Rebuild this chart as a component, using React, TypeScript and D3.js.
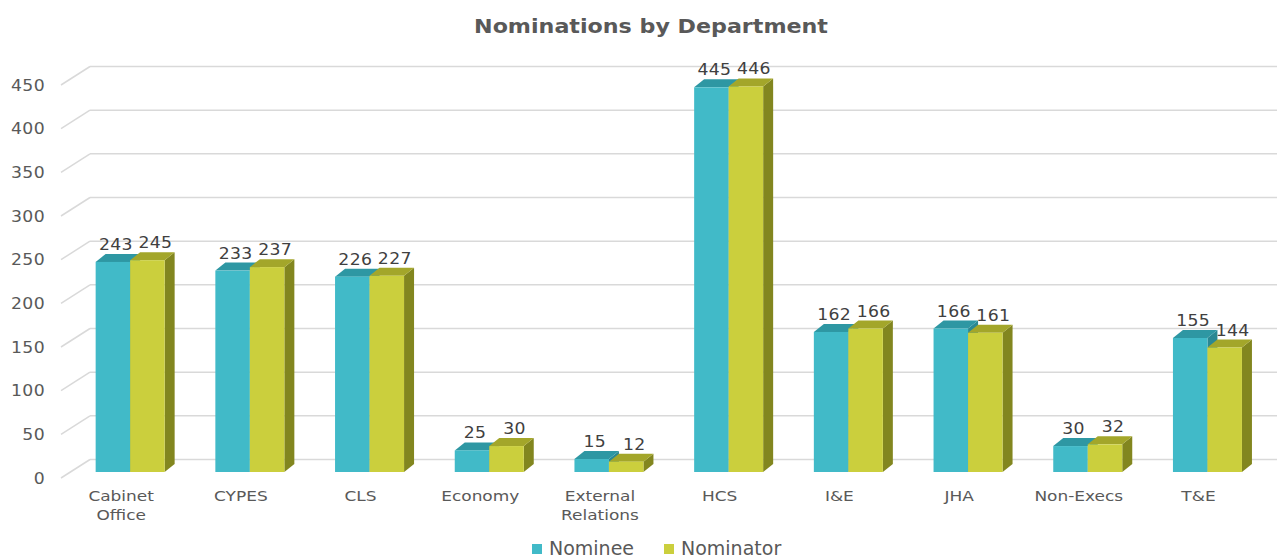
import React from "react";
import { scaleBand, scaleLinear } from "d3";

const categories = [
  "Cabinet Office",
  "CYPES",
  "CLS",
  "Economy",
  "External Relations",
  "HCS",
  "I&E",
  "JHA",
  "Non-Execs",
  "T&E",
];
const nominee = [243, 233, 226, 25, 15, 445, 162, 166, 30, 155];
const nominator = [245, 237, 227, 30, 12, 446, 166, 161, 32, 144];
const yTicks = [0, 50, 100, 150, 200, 250, 300, 350, 400, 450];
const seriesNames = ["Nominee", "Nominator"];

const colors = {
  nominee: { front: "#41bac8", top: "#2e97a3", side: "#2a8893" },
  nominator: { front: "#cbcf3d", top: "#a3a62a", side: "#82861f" },
};

const font = "'DejaVu Sans', Verdana, sans-serif";

// stretched text, the source renders a wide face
const Wide = ({ x, y, sx = 1.15, children, ...rest }) => (
  <text transform={`translate(${x},${y}) scale(${sx},1)`} fontFamily={font} {...rest}>
    {children}
  </text>
);

export default function App() {
  const width = 1277;
  const height = 560;

  // front edge of the axis and the back wall offset
  const yFront = scaleLinear().domain([0, 450]).range([478, 85]);
  const wallDx = 29;
  const wallDy = -18.5;

  // bars sit a bit behind the front edge
  const yBar = scaleLinear().domain([0, 450]).range([472, 83]);
  const xScale = scaleBand().domain(categories).range([70.3, 1267.3]);
  const barW = 34.5;
  const depthX = 10;
  const depthY = -8;

  const bar = (x, v, c, key) => {
    const y0 = yBar(0);
    const y1 = yBar(v);
    const top = `M${x},${y1} L${x + depthX},${y1 + depthY} L${x + barW + depthX},${y1 + depthY} L${x + barW},${y1} Z`;
    const side = `M${x + barW},${y1} L${x + barW + depthX},${y1 + depthY} L${x + barW + depthX},${y0 + depthY} L${x + barW},${y0} Z`;
    return (
      <g key={key}>
        <path d={side} fill={c.side} />
        <path d={top} fill={c.top} />
        <rect x={x} y={y1} width={barW} height={y0 - y1} fill={c.front} />
      </g>
    );
  };

  return (
    <svg width={width} height={height} style={{ position: "absolute", left: 0, top: 0 }}>
      <rect width={width} height={height} fill="#ffffff" />
      <Wide x={651} y={33} sx={1.11} textAnchor="middle" fontSize={20} fontWeight="bold" fill="#595959">
        Nominations by Department
      </Wide>

      {/* gridlines: slanted floor edge + back wall line */}
      {yTicks.map((t) => (
        <g key={t} stroke="#d9d9d9" strokeWidth={1.5} fill="none">
          <line x1={61} y1={yFront(t)} x2={61 + wallDx} y2={yFront(t) + wallDy} />
          <line x1={61 + wallDx} y1={yFront(t) + wallDy} x2={1277} y2={yFront(t) + wallDy} />
        </g>
      ))}
      {yTicks.map((t) => (
        <Wide
          key={"l" + t}
          x={45}
          y={yFront(t) + 5.5}
          textAnchor="end"
          fontSize={15}
          letterSpacing={0.3}
          fill="#595959"
        >
          {t}
        </Wide>
      ))}

      {categories.map((c, i) => {
        const cx = xScale(c) + xScale.bandwidth() / 2;
        const x1 = cx - barW;
        const x2 = cx;
        return (
          <g key={c}>
            {bar(x1, nominee[i], colors.nominee, "a")}
            {bar(x2, nominator[i], colors.nominator, "b")}
            <Wide
              x={x1 + barW / 2 + 3}
              y={yBar(nominee[i]) + depthY - 4}
              textAnchor="middle"
              fontSize={15}
              letterSpacing={0.3}
              fill="#404040"
            >
              {nominee[i]}
            </Wide>
            <Wide
              x={x2 + barW / 2 + 8}
              y={yBar(nominator[i]) + depthY - 4}
              textAnchor="middle"
              fontSize={15}
              letterSpacing={0.3}
              fill="#404040"
            >
              {nominator[i]}
            </Wide>
            <Wide
              x={cx - 9}
              y={501}
              sx={1.17}
              textAnchor="middle"
              fontSize={14.5}
              fill="#595959"
            >
              {c.split(" ").map((w, k) => (
                <tspan key={k} x={0} dy={k === 0 ? 0 : 19}>
                  {w}
                </tspan>
              ))}
            </Wide>
          </g>
        );
      })}

      {/* legend */}
      {seriesNames.map((s, i) => {
        const lx = [532, 664][i];
        const c = i === 0 ? colors.nominee.front : colors.nominator.front;
        return (
          <g key={s}>
            <rect x={lx} y={544} width={10} height={10} fill={c} />
            <text x={lx + 17} y={555} fontFamily={font} fontSize={19} fill="#595959">
              {s}
            </text>
          </g>
        );
      })}
    </svg>
  );
}
